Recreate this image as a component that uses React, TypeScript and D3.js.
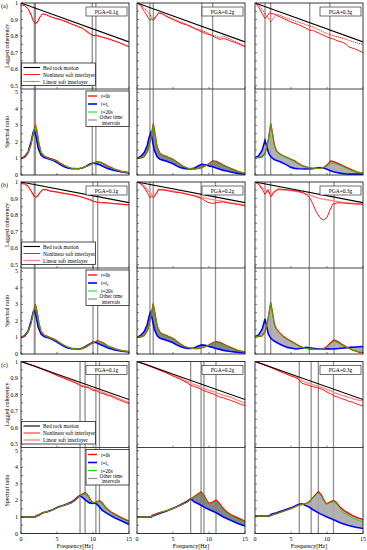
import React from 'react'
import * as d3 from 'd3'

type P = [number, number][]

const freqTicks = [0, 5, 10, 15]
const cohTicks = [1, 0.9, 0.8, 0.7, 0.6, 0.5]
const ratioTicks = [0, 1, 2, 3, 4, 5]
const rowLabels = ['(a)', '(b)', '(c)']
const pgaLabels = ['PGA=0.1g', 'PGA=0.2g', 'PGA=0.3g']

// bed rock motion (lagged coherency)
const rockA: P = [[0, 1], [15, 0.765]]
const rockB: P = [[0, 1], [15, 0.875]]
const rockC: P = [[0, 1], [15, 0.77]]

// nonlinear / linear soft interlayer, row (a)
const nonA1: P = [[0,0.99],[0.5,0.985],[1,0.965],[1.4,0.93],[1.7,0.895],[2,0.878],[2.3,0.885],[2.6,0.915],[3,0.935],[3.5,0.93],[4,0.918],[4.5,0.912],[5,0.905],[5.5,0.9],[6,0.892],[6.5,0.885],[7,0.872],[7.5,0.866],[8,0.855],[8.5,0.85],[9,0.83],[9.5,0.815],[10,0.802],[10.5,0.806],[11,0.798],[11.5,0.79],[12,0.786],[12.5,0.78],[13,0.77],[13.5,0.762],[14,0.755],[14.5,0.745],[15,0.735]]
const linA1: P = [[0,0.99],[0.5,0.983],[1,0.962],[1.4,0.925],[1.7,0.89],[2,0.874],[2.3,0.882],[2.6,0.91],[3,0.932],[3.5,0.928],[4,0.92],[4.5,0.91],[5,0.902],[5.5,0.898],[6,0.89],[6.5,0.88],[7,0.875],[7.5,0.862],[8,0.858],[8.5,0.845],[9,0.835],[9.5,0.82],[10,0.805],[10.5,0.8],[11,0.795],[11.5,0.792],[12,0.783],[12.5,0.775],[13,0.772],[13.5,0.765],[14,0.752],[14.5,0.742],[15,0.738]]
const nonA2: P = [[0,1],[0.5,0.985],[1,0.95],[1.5,0.915],[1.8,0.895],[2,0.905],[2.3,0.895],[2.6,0.915],[3,0.94],[3.5,0.935],[4,0.92],[5,0.9],[6,0.88],[7,0.865],[8,0.845],[9,0.825],[9.5,0.815],[10,0.81],[10.5,0.8],[11,0.79],[11.5,0.78],[12,0.785],[12.5,0.78],[13,0.77],[14,0.755],[15,0.735]]
const linA2: P = [[0,1],[0.5,0.99],[1,0.97],[1.5,0.945],[1.8,0.93],[2,0.915],[2.3,0.905],[2.6,0.92],[3,0.94],[3.5,0.935],[4,0.925],[5,0.905],[6,0.885],[7,0.87],[8,0.85],[9,0.832],[9.5,0.825],[10,0.815],[10.5,0.805],[11,0.8],[11.5,0.79],[12,0.8],[12.5,0.79],[13,0.78],[14,0.76],[15,0.74]]
const nonA3: P = [[0,1],[0.5,0.975],[1,0.935],[1.4,0.905],[1.7,0.92],[2,0.94],[2.5,0.935],[3,0.925],[4,0.905],[5,0.885],[6,0.87],[7,0.85],[7.6,0.835],[8,0.835],[9,0.815],[10,0.795],[11,0.78],[11.5,0.77],[12,0.765],[12.5,0.755],[13,0.735],[14,0.72],[15,0.7]]
const linA3: P = [[0,1],[0.5,0.99],[1,0.96],[1.4,0.935],[1.8,0.91],[2.2,0.885],[2.6,0.91],[3,0.93],[3.5,0.925],[4,0.915],[5,0.9],[6,0.885],[7,0.87],[7.6,0.86],[8,0.855],[9,0.835],[10,0.815],[11,0.8],[12,0.79],[13,0.775],[14,0.76],[15,0.75]]

// row (b)
const nonB1: P = [[0,0.99],[0.5,0.99],[1,0.975],[1.5,0.94],[1.8,0.915],[2,0.908],[2.3,0.915],[2.6,0.935],[3,0.955],[3.5,0.955],[4,0.945],[5,0.94],[6,0.93],[7,0.925],[8,0.915],[9,0.9],[9.5,0.895],[10,0.885],[10.5,0.878],[11,0.875],[12,0.874],[13,0.87],[14,0.866],[15,0.862]]
const linB1: P = [[0,0.99],[0.5,0.988],[1,0.972],[1.5,0.937],[1.8,0.912],[2,0.906],[2.3,0.913],[2.6,0.933],[3,0.952],[3.5,0.953],[4,0.947],[5,0.938],[6,0.932],[7,0.922],[8,0.913],[9,0.903],[9.5,0.893],[10,0.883],[10.5,0.88],[11,0.877],[12,0.872],[13,0.868],[14,0.865],[15,0.86]]
const nonB2: P = [[0,1],[0.5,0.99],[1,0.965],[1.5,0.93],[1.8,0.905],[2,0.915],[2.3,0.905],[2.7,0.93],[3,0.955],[4,0.95],[5,0.94],[6,0.935],[7,0.925],[8,0.915],[9,0.9],[9.5,0.885],[10,0.875],[10.5,0.87],[11,0.875],[12,0.88],[13,0.87],[14,0.865],[15,0.855]]
const linB2: P = [[0,1],[0.5,0.992],[1,0.975],[1.5,0.95],[2,0.925],[2.3,0.915],[2.7,0.935],[3,0.955],[4,0.952],[5,0.945],[6,0.937],[7,0.928],[8,0.918],[9,0.908],[10,0.898],[11,0.89],[12,0.883],[13,0.875],[14,0.868],[15,0.86]]
const nonB3: P = [[0,1],[0.5,0.985],[1,0.955],[1.4,0.925],[1.8,0.955],[2.2,0.91],[2.6,0.935],[3.2,0.958],[4,0.955],[5,0.95],[6,0.945],[6.7,0.935],[7.2,0.92],[7.6,0.905],[8,0.87],[8.5,0.82],[9,0.785],[9.5,0.77],[10,0.785],[10.4,0.83],[10.8,0.865],[11.5,0.875],[12.5,0.872],[13.5,0.868],[14.5,0.866],[15,0.864]]
const linB3: P = [[0,1],[0.5,0.99],[1,0.965],[1.4,0.95],[1.8,0.94],[2.2,0.925],[2.6,0.94],[3.2,0.955],[4,0.952],[5,0.948],[6,0.94],[7,0.93],[8,0.915],[9,0.9],[10,0.893],[11,0.885],[12,0.878],[13,0.874],[14,0.87],[15,0.868]]

// row (c)
const nonC1: P = [[0,1],[1,0.985],[2,0.97],[3,0.952],[4,0.935],[5,0.915],[6,0.898],[7,0.88],[7.5,0.872],[8,0.86],[8.5,0.848],[9,0.845],[9.5,0.838],[10,0.825],[10.5,0.822],[11,0.81],[11.5,0.805],[12,0.795],[12.5,0.79],[13,0.78],[13.5,0.77],[14,0.762],[14.5,0.752],[15,0.745]]
const linC1: P = [[0,1],[1,0.986],[2,0.972],[3,0.955],[4,0.938],[5,0.92],[6,0.902],[7,0.885],[7.5,0.878],[8,0.865],[8.5,0.855],[9,0.85],[9.5,0.843],[10,0.833],[10.5,0.83],[11,0.82],[11.5,0.812],[12,0.802],[12.5,0.797],[13,0.788],[13.5,0.778],[14,0.77],[14.5,0.76],[15,0.752]]
const nonC2: P = [[0,1],[1,0.985],[2,0.968],[3,0.95],[4,0.932],[5,0.912],[6,0.893],[7,0.87],[7.5,0.855],[8,0.848],[8.5,0.84],[9,0.83],[9.5,0.82],[10,0.812],[10.5,0.805],[11,0.795],[11.5,0.785],[12,0.78],[12.5,0.772],[13,0.765],[13.5,0.757],[14,0.748],[14.5,0.74],[15,0.733]]
const linC2: P = [[0,1],[1,0.987],[2,0.972],[3,0.955],[4,0.938],[5,0.918],[6,0.9],[7,0.88],[7.5,0.868],[8,0.86],[8.5,0.852],[9,0.842],[9.5,0.835],[10,0.825],[10.5,0.82],[11,0.812],[11.5,0.803],[12,0.795],[12.5,0.79],[13,0.785],[13.5,0.775],[14,0.765],[14.5,0.757],[15,0.748]]
const nonC3: P = [[0,1],[1,0.984],[2,0.967],[3,0.948],[4,0.93],[5,0.912],[5.5,0.905],[6,0.895],[6.5,0.868],[7,0.862],[7.5,0.855],[8,0.848],[8.8,0.84],[9.5,0.828],[10,0.815],[10.5,0.805],[11,0.792],[11.5,0.785],[12,0.775],[12.5,0.77],[13,0.76],[13.5,0.755],[14,0.745],[14.5,0.738],[15,0.732]]
const linC3: P = [[0,1],[1,0.985],[2,0.97],[3,0.952],[4,0.935],[5,0.917],[6,0.9],[6.5,0.885],[7,0.875],[7.5,0.868],[8,0.86],[8.8,0.85],[9.5,0.84],[10,0.83],[10.5,0.822],[11,0.812],[11.5,0.805],[12,0.797],[12.5,0.79],[13,0.783],[13.5,0.777],[14,0.77],[14.5,0.765],[15,0.76]]

// spectral ratio: t=0s (red), t=te (blue), t=20s (green)
const redA1: P = [[0,1],[0.5,1.08],[1,1.35],[1.4,1.85],[1.7,2.5],[2,3.05],[2.2,2.7],[2.5,1.9],[2.8,1.35],[3.2,1.15],[4,1],[4.5,0.95],[5,0.85],[5.5,0.7],[6,0.58],[6.5,0.48],[7,0.42],[8,0.38],[8.5,0.42],[9,0.5],[9.5,0.6],[10,0.7],[10.5,0.8],[11,0.78],[11.5,0.68],[12,0.55],[13,0.35],[14,0.22],[15,0.15]]
const blueA1: P = [[0,1],[0.5,1.1],[1,1.4],[1.4,2],[1.7,2.6],[1.85,2.72],[2.1,2.3],[2.4,1.6],[2.8,1.2],[3.2,1.05],[4,0.95],[4.5,0.88],[5,0.75],[5.5,0.62],[6,0.5],[6.5,0.42],[7,0.38],[8,0.38],[8.5,0.42],[9,0.52],[9.5,0.65],[10,0.72],[10.5,0.68],[11,0.6],[11.5,0.5],[12,0.4],[13,0.27],[14,0.18],[15,0.12]]
const greenA1: P = [[0,1],[1,1.35],[1.4,1.85],[1.7,2.5],[2,3],[2.2,2.68],[2.5,1.88],[2.8,1.33],[3.2,1.13],[4,0.98],[5,0.83],[6,0.56],[7,0.4],[8,0.38],[9,0.5],[10,0.7],[10.5,0.77],[11,0.75],[12,0.52],[13,0.33],[14,0.2],[15,0.14]]
const redA2: P = [[0,1],[0.5,1.02],[1,1.1],[1.5,1.45],[1.9,2.2],[2.27,3.1],[2.5,2.5],[2.8,1.7],[3.2,1.3],[3.6,1.2],[4.2,1.1],[5,0.95],[5.5,0.8],[6,0.65],[6.5,0.5],[7,0.42],[7.5,0.38],[8,0.36],[8.5,0.38],[9,0.45],[9.5,0.55],[10,0.7],[10.5,0.85],[11,0.82],[11.5,0.72],[12,0.6],[12.5,0.5],[13,0.4],[14,0.22],[15,0.1]]
const blueA2: P = [[0,1],[0.5,1.12],[1,1.35],[1.4,1.75],[1.7,2.3],[1.9,2.55],[2.1,2.2],[2.4,1.5],[2.8,1.1],[3.2,0.95],[3.6,0.9],[4.2,0.82],[5,0.68],[5.5,0.55],[6,0.45],[6.5,0.4],[7,0.37],[7.5,0.37],[8,0.42],[8.5,0.55],[9,0.65],[9.5,0.62],[10,0.55],[10.5,0.5],[11,0.42],[11.5,0.35],[12,0.28],[12.5,0.24],[13,0.18],[14,0.1],[15,0.05]]
const greenA2: P = [[0,1],[1,1.1],[1.5,1.45],[1.9,2.2],[2.27,3.05],[2.5,2.45],[2.8,1.68],[3.2,1.28],[4.2,1.08],[5,0.93],[6,0.63],[7,0.41],[8,0.36],[9,0.45],[10,0.68],[10.5,0.8],[11,0.78],[12,0.57],[13,0.37],[14,0.2],[15,0.09]]
const redA3: P = [[0,1.05],[0.5,1.05],[1,1.1],[1.4,1.3],[1.8,2],[2.18,3.1],[2.4,2.6],[2.7,1.8],[3,1.45],[3.5,1.25],[4,1.15],[4.5,1.05],[5,0.95],[5.5,0.85],[6,0.7],[6.5,0.58],[7,0.5],[7.5,0.45],[8,0.42],[9,0.4],[9.5,0.45],[10,0.6],[10.5,0.85],[11,0.8],[11.5,0.7],[12,0.6],[13,0.4],[14,0.2],[15,0.1]]
const blueA3: P = [[0,1.05],[0.5,1.15],[1,1.5],[1.39,2.1],[1.6,1.8],[1.9,1.3],[2.2,1.1],[2.6,0.95],[3,0.88],[3.5,0.8],[4,0.7],[4.5,0.58],[5,0.46],[5.5,0.4],[6,0.38],[7,0.36],[8,0.38],[8.5,0.42],[9,0.45],[9.5,0.42],[10,0.35],[10.5,0.25],[11,0.18],[12,0.1],[13,0.05],[14,0.05],[15,0.05]]
const greenA3: P = [[0,1.05],[1,1.1],[1.4,1.3],[1.8,2],[2.18,3.05],[2.4,2.55],[2.7,1.78],[3,1.43],[4,1.13],[5,0.93],[6,0.68],[7,0.48],[8,0.41],[9,0.4],[9.5,0.43],[10,0.55],[10.5,0.72],[11,0.7],[12,0.55],[13,0.35],[14,0.18],[15,0.09]]

const redB1: P = [[0,1],[0.5,1.08],[1,1.35],[1.4,1.85],[1.7,2.5],[2,3],[2.2,2.65],[2.5,1.85],[2.8,1.35],[3.2,1.15],[4,1],[4.5,0.92],[5,0.8],[5.5,0.65],[6,0.52],[6.5,0.42],[7,0.35],[8,0.3],[8.5,0.33],[9,0.42],[9.5,0.55],[10,0.68],[10.6,0.8],[11,0.75],[11.5,0.65],[12,0.5],[13,0.32],[14,0.2],[15,0.15]]
const blueB1: P = [[0,1],[0.5,1.1],[1,1.4],[1.4,2],[1.7,2.55],[1.9,2.65],[2.1,2.25],[2.4,1.6],[2.8,1.2],[3.2,1.05],[4,0.95],[4.5,0.85],[5,0.72],[5.5,0.58],[6,0.45],[6.5,0.37],[7,0.32],[8,0.3],[8.5,0.35],[9,0.47],[9.5,0.6],[10,0.72],[10.5,0.68],[11,0.58],[11.5,0.48],[12,0.38],[13,0.25],[14,0.17],[15,0.12]]
const greenB1: P = [[0,1],[1,1.35],[1.4,1.85],[1.7,2.5],[2,2.95],[2.2,2.62],[2.5,1.83],[2.8,1.33],[3.2,1.13],[4,0.98],[5,0.78],[6,0.5],[7,0.34],[8,0.3],[9,0.44],[10,0.7],[10.5,0.77],[11,0.72],[12,0.47],[13,0.3],[14,0.19],[15,0.14]]
const redB2: P = [[0,1],[0.5,1.02],[1,1.1],[1.5,1.45],[1.9,2.2],[2.25,3.05],[2.5,2.45],[2.8,1.7],[3.2,1.3],[3.6,1.2],[4.2,1.1],[5,0.95],[5.5,0.78],[6,0.62],[6.5,0.48],[7,0.4],[7.5,0.35],[8,0.33],[8.5,0.33],[9,0.37],[9.5,0.45],[10,0.55],[10.5,0.68],[11,0.75],[11.5,0.7],[12,0.6],[12.5,0.5],[13,0.4],[14,0.22],[15,0.12]]
const blueB2: P = [[0,1],[0.5,1.12],[1,1.35],[1.4,1.75],[1.7,2.3],[1.85,2.5],[2.1,2.15],[2.4,1.5],[2.8,1.1],[3.2,0.95],[3.6,0.9],[4.2,0.82],[5,0.68],[5.5,0.55],[6,0.45],[6.5,0.38],[7,0.33],[7.5,0.33],[8,0.38],[8.5,0.48],[9,0.55],[9.5,0.52],[10,0.45],[10.5,0.4],[11,0.33],[11.5,0.28],[12,0.22],[13,0.15],[14,0.1],[15,0.06]]
const greenB2: P = [[0,1],[1,1.1],[1.5,1.45],[1.9,2.2],[2.25,3],[2.5,2.42],[2.8,1.68],[3.2,1.28],[4.2,1.08],[5,0.93],[6,0.6],[7,0.39],[8,0.33],[9,0.37],[10,0.53],[10.5,0.64],[11,0.7],[12,0.56],[13,0.37],[14,0.2],[15,0.1]]
const redB3: P = [[0,1.05],[0.5,1.05],[1,1.1],[1.4,1.35],[1.8,2.1],[2.18,3.1],[2.4,2.6],[2.7,1.8],[3,1.5],[3.5,1.25],[4,1.05],[4.5,0.9],[5,0.78],[5.5,0.65],[6,0.52],[6.5,0.42],[7,0.35],[7.5,0.3],[8.5,0.28],[9.4,0.3],[10,0.45],[10.5,0.68],[10.97,0.85],[11.5,0.75],[12,0.6],[12.8,0.4],[13.5,0.25],[14.5,0.1],[15,0.08]]
const blueB3: P = [[0,1.05],[0.5,1.15],[1,1.5],[1.39,2.12],[1.6,1.7],[1.85,1.2],[2.2,0.95],[2.6,0.8],[3.2,0.65],[3.9,0.5],[4.5,0.4],[5.7,0.3],[6.5,0.35],[7.1,0.4],[8,0.35],[9,0.3],[10,0.32],[10.9,0.3],[12,0.35],[13.2,0.4],[14,0.42],[15,0.45]]
const greenB3: P = [[0,1.05],[1,1.1],[1.4,1.35],[1.8,2.1],[2.18,3.05],[2.4,2.55],[2.7,1.78],[3,1.48],[4,1.03],[5,0.76],[6,0.5],[7,0.34],[8.5,0.28],[9.4,0.3],[10,0.42],[10.5,0.62],[10.97,0.75],[11.5,0.68],[12,0.55],[13,0.35],[14,0.18],[15,0.1]]

const redC1: P = [[0,1],[1,1],[2,1],[2.1,1.08],[2.5,1.12],[3,1.25],[3.5,1.3],[4,1.35],[4.5,1.45],[5,1.55],[5.5,1.65],[6,1.7],[6.5,1.78],[7,1.85],[7.5,2],[8,2.2],[8.4,2.35],[8.9,2.47],[9.3,2.3],[9.7,2],[10,1.86],[10.4,1.9],[10.9,1.98],[11.3,1.85],[11.8,1.55],[12.5,1.3],[13.5,1.05],[14.3,0.88],[15,0.74]]
const blueC1: P = [[0,1],[2,1],[2.1,1.05],[2.5,1.12],[3,1.25],[3.5,1.3],[4,1.38],[4.5,1.45],[5,1.58],[5.5,1.65],[6,1.72],[6.5,1.8],[7,1.9],[7.5,2.05],[8,2.25],[8.2,2.3],[8.6,2.15],[9,2],[9.5,1.85],[10,1.82],[10.3,1.85],[10.7,1.7],[11.3,1.4],[12,1.2],[13,0.95],[14,0.75],[15,0.55]]
const greenC1: P = [[0,1],[2,1],[2.1,1.08],[3,1.25],[4,1.35],[5,1.55],[6,1.7],[7,1.85],[7.5,2],[8,2.2],[8.4,2.33],[8.9,2.42],[9.3,2.27],[9.7,1.98],[10,1.85],[10.4,1.88],[10.9,1.93],[11.3,1.8],[11.8,1.5],[12.5,1.25],[13.5,1],[14.3,0.83],[15,0.68]]
const redC2: P = [[0,1],[2,1],[2.1,1.1],[3,1.25],[4,1.35],[5,1.5],[6,1.7],[7,1.9],[7.45,2.08],[8,2.25],[8.5,2.4],[8.9,2.52],[9.3,2.3],[9.7,2],[10,1.82],[10.5,1.9],[10.97,2.02],[11.4,1.85],[12,1.5],[12.5,1.3],[13,1.15],[14,0.95],[15,0.75]]
const blueC2: P = [[0,1],[2,1],[2.1,1.05],[3,1.2],[4,1.35],[5,1.52],[6,1.72],[7,1.95],[7.45,2.1],[8,1.9],[8.5,1.8],[9,1.68],[9.5,1.55],[10,1.45],[11,1.25],[12,1],[13,0.8],[14,0.6],[15,0.45]]
const greenC2: P = [[0,1],[2,1],[3,1.25],[5,1.5],[7,1.9],[7.45,2.08],[8,2.22],[8.5,2.35],[8.9,2.45],[9.3,2.25],[9.7,1.97],[10,1.8],[10.5,1.85],[10.97,1.95],[11.4,1.78],[12,1.42],[13,1.08],[14,0.85],[15,0.68]]
const redC3: P = [[0,1.05],[2,1.05],[2.2,1.1],[3,1.2],[4,1.35],[5,1.5],[6,1.7],[6.5,1.75],[7,1.8],[7.5,1.9],[7.8,2.05],[8.3,2.3],[8.8,2.53],[9.2,2.35],[9.6,2],[9.9,1.8],[10.4,1.9],[10.9,2],[11.3,1.88],[11.8,1.6],[12.5,1.35],[13.5,1.1],[14.3,0.95],[15,0.85]]
const blueC3: P = [[0,1.05],[2,1.05],[2.2,1.15],[3,1.25],[4,1.4],[5,1.55],[6,1.75],[6.5,1.8],[7,1.7],[7.5,1.6],[8,1.45],[9,1.2],[10,1],[11,0.82],[12,0.62],[13,0.48],[14,0.38],[15,0.3]]
const greenC3: P = [[0,1.05],[2,1.05],[3,1.2],[5,1.5],[6,1.7],[7,1.8],[7.8,2.03],[8.3,2.27],[8.8,2.45],[9.2,2.28],[9.6,1.95],[9.9,1.77],[10.4,1.85],[10.9,1.93],[11.3,1.8],[11.8,1.5],[12.5,1.2],[13.5,0.95],[14.3,0.8],[15,0.7]]

// marked frequencies (grey verticals)
const vlinesA = [[1.85, 2.0, 9.9, 10.4], [1.8, 2.26, 9.0, 10.5], [1.39, 2.18, 7.6, 10.4]]
const vlinesB = [[1.85, 1.95, 10.0, 10.65], [1.8, 2.25, 8.9, 10.9], [1.39, 2.18, 7.55, 10.97]]
const vlinesC = [[8.2, 8.9, 10.4, 10.9], [7.45, 8.9, 9.3, 10.97], [6.15, 7.8, 8.8, 10.9]]

const rows = [
  { rock: rockA, non: [nonA1, nonA2, nonA3], lin: [linA1, linA2, linA3], red: [redA1, redA2, redA3], blue: [blueA1, blueA2, blueA3], green: [greenA1, greenA2, greenA3], vl: vlinesA },
  { rock: rockB, non: [nonB1, nonB2, nonB3], lin: [linB1, linB2, linB3], red: [redB1, redB2, redB3], blue: [blueB1, blueB2, blueB3], green: [greenB1, greenB2, greenB3], vl: vlinesB },
  { rock: rockC, non: [nonC1, nonC2, nonC3], lin: [linC1, linC2, linC3], red: [redC1, redC2, redC3], blue: [blueC1, blueC2, blueC3], green: [greenC1, greenC2, greenC3], vl: vlinesC },
]

const colX = [21, 137, 255]
const rowY = [3, 182, 361.5]
const W = 108
const H = 86
const FONT = 'Liberation Serif, Times New Roman, serif'
const bandFill = ['#9a9a9a', '#7a7a7a', '#a8a8a8']

const Panel = ({ r, c }: { r: number; c: number }) => {
  const row = rows[r]
  const x0 = colX[c]
  const y0 = rowY[r]
  const x = d3.scaleLinear().domain([0, 15]).range([x0, x0 + W])
  const yc = d3.scaleLinear().domain([0.48, 1]).range([y0 + H, y0])
  const ys = d3.scaleLinear().domain([0, 5.2]).range([y0 + 2 * H, y0 + H])
  const lc = d3.line<[number, number]>().x((d) => x(d[0])).y((d) => yc(d[1]))
  const ls = d3.line<[number, number]>().x((d) => x(d[0])).y((d) => ys(d[1]))
  const band =
    ls(row.red[c]) + 'L' + (ls([...row.blue[c]].reverse()) || '').slice(1) + 'Z'
  const linStyle =
    r === 0
      ? { stroke: '#ff0000', strokeWidth: 0.9, strokeDasharray: '1.2,0.8' }
      : { stroke: '#ff8c8c', strokeWidth: 1.4 }
  const cohMinor = d3.range(0.5, 1.001, 0.05)
  const ratMinor = d3.range(0, 5.01, 0.5)
  const clipId = `clip-${r}-${c}`

  return (
    <g>
      <defs>
        <clipPath id={clipId}>
          <rect x={x0} y={y0} width={W} height={2 * H} />
        </clipPath>
      </defs>
      <g clipPath={`url(#${clipId})`}>
        {row.vl[c].map((f, i) => (
          <line key={i} x1={x(f)} x2={x(f)} y1={y0} y2={y0 + 2 * H} stroke="#8f8f8f" strokeWidth={1.3} />
        ))}
        <path d={lc(row.lin[c]) || ''} fill="none" {...linStyle} />
        <path d={lc(row.non[c]) || ''} fill="none" stroke="#ff0000" strokeWidth={0.9} />
        <path d={lc(row.rock) || ''} fill="none" stroke="#000" strokeWidth={1.1} />
        <path d={band} fill={bandFill[c]} stroke="none" opacity={0.9} />
        <path d={ls(row.blue[c]) || ''} fill="none" stroke="#0000ff" strokeWidth={1.6} />
        <path d={ls(row.red[c]) || ''} fill="none" stroke="#ff0000" strokeWidth={1.3} />
        <path d={ls(row.green[c]) || ''} fill="none" stroke="#00e000" strokeWidth={0.8} />
      </g>
      {/* ticks */}
      {cohMinor.map((v, i) => (
        <line key={'tc' + i} x1={x0} x2={x0 + 2} y1={yc(v)} y2={yc(v)} stroke="#000" strokeWidth={0.5} />
      ))}
      {ratMinor.map((v, i) => (
        <line key={'tr' + i} x1={x0} x2={x0 + 2} y1={ys(v)} y2={ys(v)} stroke="#000" strokeWidth={0.5} />
      ))}
      {freqTicks.map((f) => (
        <g key={'tx' + f}>
          <line x1={x(f)} x2={x(f)} y1={y0 + H} y2={y0 + H - 2} stroke="#000" strokeWidth={0.5} />
          <line x1={x(f)} x2={x(f)} y1={y0 + 2 * H} y2={y0 + 2 * H - 2} stroke="#000" strokeWidth={0.5} />
        </g>
      ))}
      <rect x={x0} y={y0} width={W} height={2 * H} fill="none" stroke="#222" strokeWidth={0.9} />
      <line x1={x0} x2={x0 + W} y1={y0 + H} y2={y0 + H} stroke="#444" strokeWidth={1} />
      {/* PGA box */}
      <rect x={x0 + 65} y={y0 + 4} width={41} height={9} fill="#fff" stroke="#333" strokeWidth={0.7} />
      <text x={x0 + 85.5} y={y0 + 10.7} fontSize={5.5} textAnchor="middle" fontFamily={FONT}>
        {pgaLabels[c]}
      </text>
      {c === 0 &&
        cohTicks.map((v) => (
          <text key={'lc' + v} x={x0 - 3} y={yc(v) + 2} fontSize={6} textAnchor="end" fontFamily={FONT}>
            {v}
          </text>
        ))}
      {c === 0 &&
        ratioTicks.map((v) => (
          <text key={'lr' + v} x={x0 - 3} y={ys(v) + 2} fontSize={6} textAnchor="end" fontFamily={FONT}>
            {v}
          </text>
        ))}
      {r === 2 &&
        freqTicks.map((f) => (
          <text key={'lx' + f} x={x(f)} y={y0 + 2 * H + 7.5} fontSize={6} textAnchor="middle" fontFamily={FONT}>
            {f}
          </text>
        ))}
      {r === 2 && (
        <text x={x0 + W / 2} y={y0 + 2 * H + 14} fontSize={6} textAnchor="middle" fontFamily={FONT}>
          Frequency[Hz]
        </text>
      )}
      {c === 0 && (
        <g fontFamily={FONT} fontSize={6}>
          <text x={1} y={y0 + 5}>{rowLabels[r]}</text>
          <text transform={`translate(${x0 - 12},${y0 + H / 2}) rotate(-90)`} textAnchor="middle">
            Lagged coherency
          </text>
          <text transform={`translate(${x0 - 12},${y0 + 1.5 * H}) rotate(-90)`} textAnchor="middle">
            Spectral ratio
          </text>
          {/* coherency legend */}
          <rect x={x0 + 0.5} y={y0 + 60} width={74} height={22.5} fill="#fff" stroke="#222" strokeWidth={0.8} />
          <line x1={x0 + 2.5} x2={x0 + 19} y1={y0 + 64.5} y2={y0 + 64.5} stroke="#000" strokeWidth={1.1} />
          <line x1={x0 + 2.5} x2={x0 + 19} y1={y0 + 71.5} y2={y0 + 71.5} stroke="#ff0000" strokeWidth={0.9} />
          <line x1={x0 + 2.5} x2={x0 + 19} y1={y0 + 78.5} y2={y0 + 78.5} {...linStyle} />
          <text x={x0 + 22} y={y0 + 66.5} fontSize={5.3}>Bed rock motion</text>
          <text x={x0 + 22} y={y0 + 73.5} fontSize={5.3}>Nonlinear soft interlayer</text>
          <text x={x0 + 22} y={y0 + 80.5} fontSize={5.3}>Linear soft interlayer</text>
          {/* spectral legend */}
          <rect x={x0 + 65} y={y0 + 88} width={W - 65} height={35.5} fill="#fff" stroke="#222" strokeWidth={0.8} />
          <line x1={x0 + 67} x2={x0 + 76} y1={y0 + 93} y2={y0 + 93} stroke="#ff0000" strokeWidth={1.3} />
          <line x1={x0 + 67} x2={x0 + 76} y1={y0 + 101} y2={y0 + 101} stroke="#0000ff" strokeWidth={1.6} />
          <line x1={x0 + 67} x2={x0 + 76} y1={y0 + 109} y2={y0 + 109} stroke="#00e000" strokeWidth={1} />
          <line x1={x0 + 67} x2={x0 + 76} y1={y0 + 117} y2={y0 + 117} stroke="#8f8f8f" strokeWidth={1.2} />
          <text x={x0 + 80} y={y0 + 95} fontSize={5.3}>
            <tspan fontStyle="italic">t</tspan>=0s
          </text>
          <text x={x0 + 80} y={y0 + 103} fontSize={5.3}>
            <tspan fontStyle="italic">t</tspan>=<tspan fontStyle="italic">t</tspan>
            <tspan fontSize={4} dy={1}>e</tspan>
          </text>
          <text x={x0 + 80} y={y0 + 111} fontSize={5.3}>
            <tspan fontStyle="italic">t</tspan>=20s
          </text>
          <text x={x0 + 90} y={y0 + 116} fontSize={5.3} textAnchor="middle">Other time</text>
          <text x={x0 + 90} y={y0 + 121.5} fontSize={5.3} textAnchor="middle">intervals</text>
        </g>
      )}
    </g>
  )
}

export default function App() {
  const cells: [number, number][] = []
  for (let r = 0; r < 3; r++) for (let c = 0; c < 3; c++) cells.push([r, c])
  return (
    <svg width={367} height={550} style={{ position: 'absolute', left: 0, top: 0, background: '#fff' }}>
      <rect width={367} height={550} fill="#fff" />
      {cells.map(([r, c]) => (
        <Panel key={`${r}-${c}`} r={r} c={c} />
      ))}
    </svg>
  )
}
